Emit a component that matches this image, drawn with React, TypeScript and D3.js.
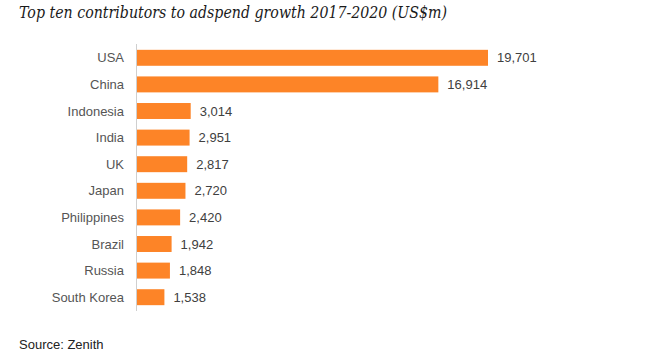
import React, { useRef, useEffect } from "react";
import * as d3 from "d3";

const countries = ["USA", "China", "Indonesia", "India", "UK", "Japan", "Philippines", "Brazil", "Russia", "South Korea"];
const growth = [19701, 16914, 3014, 2951, 2817, 2720, 2420, 1942, 1848, 1538];

const W = 650;
const H = 362;

export default function App() {
    const svgRef = useRef<SVGSVGElement>(null);

    useEffect(() => {
        document.body.style.margin = "0";
        if (!svgRef.current) return;
        const svg = d3.select(svgRef.current);
        svg.selectAll("*").remove();

        const data = countries.map((c, i) => ({ name: c, value: growth[i] }));

        const x0 = 137;
        const x = d3.scaleLinear().domain([0, 19701]).range([x0, 488]);
        const y = d3.scaleBand<string>()
            .domain(countries)
            .range([44.5, 310.5])
            .paddingInner(0.4)
            .paddingOuter(0.2);

        // Title
        svg.append("text")
            .attr("x", 19)
            .attr("y", 17.5)
            .attr("font-family", "'DejaVu Serif', serif")
            .attr("font-style", "italic")
            .attr("font-size", 16.5)
            .attr("fill", "#1a1a1a")
            .attr("textLength", 428)
            .attr("lengthAdjust", "spacingAndGlyphs")
            .text("Top ten contributors to adspend growth 2017-2020 (US$m)");

        // Bars
        svg.append("g")
            .selectAll("rect")
            .data(data)
            .join("rect")
            .attr("x", x0)
            .attr("y", d => y(d.name)!)
            .attr("width", d => x(d.value) - x0)
            .attr("height", y.bandwidth())
            .attr("fill", "#fd8427");

        // Axis line
        svg.append("line")
            .attr("x1", x0 - 0.5)
            .attr("x2", x0 - 0.5)
            .attr("y1", 44)
            .attr("y2", 311)
            .attr("stroke", "#cfcfcf")
            .attr("stroke-width", 1);

        // Category labels
        svg.append("g")
            .selectAll("text")
            .data(data)
            .join("text")
            .attr("x", 124)
            .attr("y", d => y(d.name)! + y.bandwidth() / 2)
            .attr("dy", "0.35em")
            .attr("text-anchor", "end")
            .attr("font-family", "Arial, 'Liberation Sans', sans-serif")
            .attr("font-size", 13)
            .attr("fill", "#555555")
            .text(d => d.name);

        // Value labels
        svg.append("g")
            .selectAll("text")
            .data(data)
            .join("text")
            .attr("x", d => x(d.value) + 9)
            .attr("y", d => y(d.name)! + y.bandwidth() / 2)
            .attr("dy", "0.35em")
            .attr("font-family", "Arial, 'Liberation Sans', sans-serif")
            .attr("font-size", 13)
            .attr("fill", "#404040")
            .text(d => d3.format(",")(d.value));

        // Source
        svg.append("text")
            .attr("x", 19)
            .attr("y", 349)
            .attr("font-family", "Arial, 'Liberation Sans', sans-serif")
            .attr("font-size", 13)
            .attr("fill", "#222222")
            .text("Source: Zenith");
    }, []);

    return (
        <div style={{ position: "absolute", left: 0, top: 0 }}>
            <svg ref={svgRef} width={W} height={H} style={{ display: "block", background: "#fff" }} />
        </div>
    );
}
